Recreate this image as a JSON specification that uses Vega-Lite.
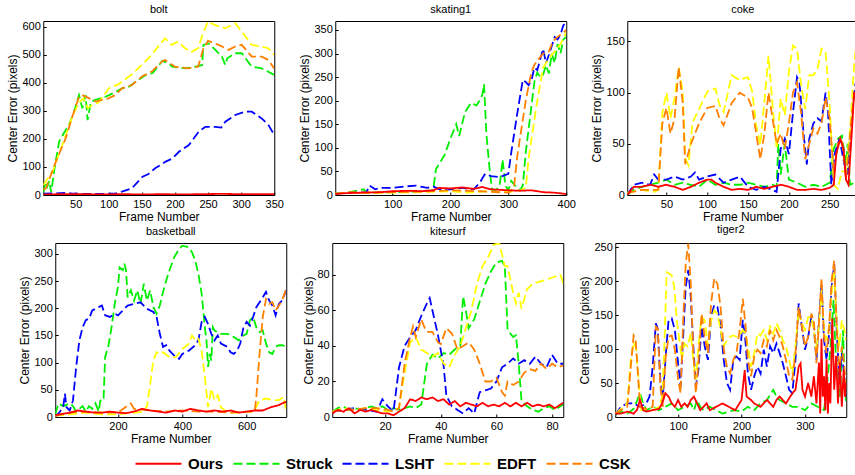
{
"$schema":"https://vega.github.io/schema/vega-lite/v6.json",
"padding":{"left":6,"right":1,"top":3,"bottom":2},
"config":{
"font":"Liberation Sans",
"view":{"stroke":"#000","strokeWidth":1},
"axis":{"grid":false,"domain":false,"ticks":true,"tickSize":-3,"tickColor":"#000","labelPadding":6,"labelFontSize":11,"labelColor":"#000","labelFont":"Liberation Sans","titleFont":"Liberation Sans","titleFontSize":12,"titleFontWeight":"normal","titleColor":"#000","titlePadding":2,"labelFlush":false},
"title":{"fontSize":11,"fontWeight":"normal","font":"Liberation Sans","offset":6,"frame":"group","color":"#000"},
"line":{"strokeWidth":1.8}
},
"datasets":{
"bolt":[
{"s":"Struck","f":1,"e":5},{"s":"Struck","f":4,"e":45},{"s":"Struck","f":7,"e":30},{"s":"Struck","f":10,"e":50},{"s":"Struck","f":13,"e":10},{"s":"Struck","f":16,"e":60},{"s":"Struck","f":18,"e":95},{"s":"Struck","f":25,"e":190},{"s":"Struck","f":32,"e":220},{"s":"Struck","f":40,"e":250},{"s":"Struck","f":48,"e":300},{"s":"Struck","f":55,"e":356},{"s":"Struck","f":60,"e":309},{"s":"Struck","f":65,"e":356},{"s":"Struck","f":68,"e":267},{"s":"Struck","f":73,"e":333},{"s":"Struck","f":80,"e":339},{"s":"Struck","f":88,"e":345},{"s":"Struck","f":95,"e":350},{"s":"Struck","f":106,"e":362},{"s":"Struck","f":120,"e":380},{"s":"Struck","f":130,"e":385},{"s":"Struck","f":141,"e":404},{"s":"Struck","f":156,"e":428},{"s":"Struck","f":166,"e":434},{"s":"Struck","f":181,"e":478},{"s":"Struck","f":190,"e":470},{"s":"Struck","f":196,"e":457},{"s":"Struck","f":216,"e":451},{"s":"Struck","f":231,"e":457},{"s":"Struck","f":241,"e":463},{"s":"Struck","f":243,"e":535},{"s":"Struck","f":251,"e":540},{"s":"Struck","f":261,"e":517},{"s":"Struck","f":271,"e":493},{"s":"Struck","f":276,"e":463},{"s":"Struck","f":279,"e":487},{"s":"Struck","f":291,"e":505},{"s":"Struck","f":301,"e":505},{"s":"Struck","f":316,"e":457},{"s":"Struck","f":331,"e":451},{"s":"Struck","f":350,"e":428},
{"s":"LSHT","f":1,"e":5},{"s":"LSHT","f":20,"e":6},{"s":"LSHT","f":35,"e":8},{"s":"LSHT","f":45,"e":5},{"s":"LSHT","f":60,"e":4},{"s":"LSHT","f":90,"e":4},{"s":"LSHT","f":110,"e":5},{"s":"LSHT","f":120,"e":12},{"s":"LSHT","f":135,"e":24},{"s":"LSHT","f":151,"e":65},{"s":"LSHT","f":160,"e":75},{"s":"LSHT","f":170,"e":95},{"s":"LSHT","f":186,"e":119},{"s":"LSHT","f":196,"e":130},{"s":"LSHT","f":206,"e":154},{"s":"LSHT","f":221,"e":178},{"s":"LSHT","f":236,"e":226},{"s":"LSHT","f":246,"e":243},{"s":"LSHT","f":261,"e":243},{"s":"LSHT","f":270,"e":240},{"s":"LSHT","f":276,"e":261},{"s":"LSHT","f":291,"e":285},{"s":"LSHT","f":306,"e":297},{"s":"LSHT","f":316,"e":297},{"s":"LSHT","f":331,"e":273},{"s":"LSHT","f":341,"e":250},{"s":"LSHT","f":350,"e":214},
{"s":"EDFT","f":1,"e":35},{"s":"EDFT","f":15,"e":83},{"s":"EDFT","f":30,"e":180},{"s":"EDFT","f":45,"e":280},{"s":"EDFT","f":55,"e":330},{"s":"EDFT","f":62,"e":345},{"s":"EDFT","f":68,"e":310},{"s":"EDFT","f":75,"e":320},{"s":"EDFT","f":85,"e":330},{"s":"EDFT","f":100,"e":380},{"s":"EDFT","f":115,"e":395},{"s":"EDFT","f":135,"e":430},{"s":"EDFT","f":160,"e":487},{"s":"EDFT","f":185,"e":558},{"s":"EDFT","f":195,"e":535},{"s":"EDFT","f":205,"e":547},{"s":"EDFT","f":215,"e":523},{"s":"EDFT","f":225,"e":510},{"s":"EDFT","f":235,"e":523},{"s":"EDFT","f":243,"e":580},{"s":"EDFT","f":250,"e":618},{"s":"EDFT","f":260,"e":606},{"s":"EDFT","f":276,"e":594},{"s":"EDFT","f":291,"e":612},{"s":"EDFT","f":301,"e":582},{"s":"EDFT","f":316,"e":535},{"s":"EDFT","f":331,"e":529},{"s":"EDFT","f":341,"e":523},{"s":"EDFT","f":350,"e":499},
{"s":"CSK","f":1,"e":20},{"s":"CSK","f":5,"e":24},{"s":"CSK","f":20,"e":119},{"s":"CSK","f":35,"e":202},{"s":"CSK","f":45,"e":280},{"s":"CSK","f":55,"e":350},{"s":"CSK","f":60,"e":356},{"s":"CSK","f":70,"e":345},{"s":"CSK","f":80,"e":333},{"s":"CSK","f":100,"e":345},{"s":"CSK","f":110,"e":356},{"s":"CSK","f":120,"e":380},{"s":"CSK","f":135,"e":392},{"s":"CSK","f":150,"e":422},{"s":"CSK","f":165,"e":440},{"s":"CSK","f":180,"e":475},{"s":"CSK","f":185,"e":481},{"s":"CSK","f":200,"e":457},{"s":"CSK","f":220,"e":451},{"s":"CSK","f":235,"e":457},{"s":"CSK","f":243,"e":523},{"s":"CSK","f":250,"e":549},{"s":"CSK","f":266,"e":535},{"s":"CSK","f":281,"e":517},{"s":"CSK","f":291,"e":529},{"s":"CSK","f":301,"e":535},{"s":"CSK","f":316,"e":493},{"s":"CSK","f":331,"e":493},{"s":"CSK","f":341,"e":481},{"s":"CSK","f":350,"e":451},
{"s":"Ours","f":1,"e":2},{"s":"Ours","f":30,"e":3},{"s":"Ours","f":60,"e":3},{"s":"Ours","f":90,"e":2},{"s":"Ours","f":120,"e":3},{"s":"Ours","f":150,"e":2},{"s":"Ours","f":180,"e":3},{"s":"Ours","f":210,"e":2},{"s":"Ours","f":240,"e":3},{"s":"Ours","f":270,"e":4},{"s":"Ours","f":300,"e":3},{"s":"Ours","f":330,"e":3},{"s":"Ours","f":350,"e":3}
],
"skating1":[
{"s":"Struck","f":1,"e":3},{"s":"Struck","f":20,"e":5},{"s":"Struck","f":50,"e":12},{"s":"Struck","f":55,"e":5},{"s":"Struck","f":100,"e":6},{"s":"Struck","f":150,"e":8},{"s":"Struck","f":170,"e":10},{"s":"Struck","f":175,"e":55},{"s":"Struck","f":190,"e":85},{"s":"Struck","f":200,"e":120},{"s":"Struck","f":210,"e":150},{"s":"Struck","f":215,"e":125},{"s":"Struck","f":225,"e":175},{"s":"Struck","f":235,"e":195},{"s":"Struck","f":245,"e":190},{"s":"Struck","f":250,"e":200},{"s":"Struck","f":255,"e":212},{"s":"Struck","f":258,"e":235},{"s":"Struck","f":262,"e":130},{"s":"Struck","f":268,"e":50},{"s":"Struck","f":272,"e":10},{"s":"Struck","f":280,"e":12},{"s":"Struck","f":285,"e":20},{"s":"Struck","f":290,"e":75},{"s":"Struck","f":295,"e":20},{"s":"Struck","f":300,"e":10},{"s":"Struck","f":305,"e":30},{"s":"Struck","f":315,"e":15},{"s":"Struck","f":320,"e":10},{"s":"Struck","f":325,"e":20},{"s":"Struck","f":330,"e":90},{"s":"Struck","f":340,"e":190},{"s":"Struck","f":345,"e":240},{"s":"Struck","f":350,"e":260},{"s":"Struck","f":355,"e":250},{"s":"Struck","f":360,"e":255},{"s":"Struck","f":365,"e":275},{"s":"Struck","f":370,"e":258},{"s":"Struck","f":375,"e":300},{"s":"Struck","f":380,"e":280},{"s":"Struck","f":385,"e":320},{"s":"Struck","f":390,"e":300},{"s":"Struck","f":395,"e":330},{"s":"Struck","f":400,"e":335},
{"s":"LSHT","f":1,"e":3},{"s":"LSHT","f":30,"e":5},{"s":"LSHT","f":55,"e":6},{"s":"LSHT","f":60,"e":20},{"s":"LSHT","f":70,"e":12},{"s":"LSHT","f":80,"e":15},{"s":"LSHT","f":100,"e":15},{"s":"LSHT","f":120,"e":18},{"s":"LSHT","f":140,"e":20},{"s":"LSHT","f":160,"e":15},{"s":"LSHT","f":170,"e":18},{"s":"LSHT","f":185,"e":10},{"s":"LSHT","f":200,"e":12},{"s":"LSHT","f":220,"e":15},{"s":"LSHT","f":240,"e":12},{"s":"LSHT","f":250,"e":25},{"s":"LSHT","f":260,"e":45},{"s":"LSHT","f":270,"e":40},{"s":"LSHT","f":285,"e":38},{"s":"LSHT","f":300,"e":45},{"s":"LSHT","f":305,"e":90},{"s":"LSHT","f":315,"e":170},{"s":"LSHT","f":325,"e":244},{"s":"LSHT","f":330,"e":240},{"s":"LSHT","f":335,"e":233},{"s":"LSHT","f":340,"e":244},{"s":"LSHT","f":345,"e":270},{"s":"LSHT","f":350,"e":265},{"s":"LSHT","f":360,"e":310},{"s":"LSHT","f":365,"e":280},{"s":"LSHT","f":370,"e":297},{"s":"LSHT","f":380,"e":335},{"s":"LSHT","f":385,"e":330},{"s":"LSHT","f":390,"e":340},{"s":"LSHT","f":395,"e":360},{"s":"LSHT","f":400,"e":365},
{"s":"EDFT","f":1,"e":3},{"s":"EDFT","f":30,"e":5},{"s":"EDFT","f":60,"e":4},{"s":"EDFT","f":100,"e":5},{"s":"EDFT","f":150,"e":6},{"s":"EDFT","f":200,"e":8},{"s":"EDFT","f":230,"e":5},{"s":"EDFT","f":260,"e":8},{"s":"EDFT","f":300,"e":6},{"s":"EDFT","f":320,"e":10},{"s":"EDFT","f":330,"e":15},{"s":"EDFT","f":335,"e":78},{"s":"EDFT","f":345,"e":160},{"s":"EDFT","f":350,"e":200},{"s":"EDFT","f":360,"e":270},{"s":"EDFT","f":370,"e":290},{"s":"EDFT","f":380,"e":304},{"s":"EDFT","f":390,"e":320},{"s":"EDFT","f":400,"e":345},
{"s":"CSK","f":1,"e":3},{"s":"CSK","f":30,"e":6},{"s":"CSK","f":60,"e":5},{"s":"CSK","f":100,"e":6},{"s":"CSK","f":150,"e":7},{"s":"CSK","f":200,"e":10},{"s":"CSK","f":250,"e":8},{"s":"CSK","f":300,"e":5},{"s":"CSK","f":305,"e":10},{"s":"CSK","f":310,"e":20},{"s":"CSK","f":315,"e":78},{"s":"CSK","f":320,"e":120},{"s":"CSK","f":330,"e":200},{"s":"CSK","f":340,"e":262},{"s":"CSK","f":345,"e":276},{"s":"CSK","f":350,"e":285},{"s":"CSK","f":360,"e":300},{"s":"CSK","f":370,"e":304},{"s":"CSK","f":375,"e":320},{"s":"CSK","f":380,"e":330},{"s":"CSK","f":390,"e":340},{"s":"CSK","f":400,"e":350},
{"s":"Ours","f":1,"e":2},{"s":"Ours","f":20,"e":4},{"s":"Ours","f":50,"e":5},{"s":"Ours","f":80,"e":6},{"s":"Ours","f":100,"e":8},{"s":"Ours","f":130,"e":9},{"s":"Ours","f":150,"e":8},{"s":"Ours","f":170,"e":10},{"s":"Ours","f":180,"e":15},{"s":"Ours","f":200,"e":14},{"s":"Ours","f":220,"e":16},{"s":"Ours","f":240,"e":13},{"s":"Ours","f":255,"e":17},{"s":"Ours","f":270,"e":12},{"s":"Ours","f":300,"e":10},{"s":"Ours","f":320,"e":9},{"s":"Ours","f":340,"e":10},{"s":"Ours","f":360,"e":6},{"s":"Ours","f":380,"e":5},{"s":"Ours","f":400,"e":2}
],
"coke":[
{"s":"Struck","f":2,"e":0},{"s":"Struck","f":10,"e":5},{"s":"Struck","f":20,"e":8},{"s":"Struck","f":30,"e":10},{"s":"Struck","f":40,"e":12},{"s":"Struck","f":50,"e":15},{"s":"Struck","f":60,"e":10},{"s":"Struck","f":70,"e":12},{"s":"Struck","f":80,"e":10},{"s":"Struck","f":90,"e":8},{"s":"Struck","f":100,"e":15},{"s":"Struck","f":110,"e":10},{"s":"Struck","f":120,"e":12},{"s":"Struck","f":130,"e":10},{"s":"Struck","f":140,"e":10},{"s":"Struck","f":150,"e":12},{"s":"Struck","f":160,"e":10},{"s":"Struck","f":170,"e":8},{"s":"Struck","f":180,"e":10},{"s":"Struck","f":185,"e":8},{"s":"Struck","f":187,"e":50},{"s":"Struck","f":190,"e":20},{"s":"Struck","f":195,"e":50},{"s":"Struck","f":200,"e":15},{"s":"Struck","f":210,"e":12},{"s":"Struck","f":220,"e":8},{"s":"Struck","f":230,"e":10},{"s":"Struck","f":240,"e":8},{"s":"Struck","f":250,"e":12},{"s":"Struck","f":255,"e":45},{"s":"Struck","f":260,"e":55},{"s":"Struck","f":265,"e":58},{"s":"Struck","f":270,"e":30},{"s":"Struck","f":272,"e":50},{"s":"Struck","f":275,"e":10},{"s":"Struck","f":280,"e":12},{"s":"Struck","f":285,"e":12},
{"s":"LSHT","f":2,"e":0},{"s":"LSHT","f":10,"e":10},{"s":"LSHT","f":20,"e":12},{"s":"LSHT","f":30,"e":10},{"s":"LSHT","f":35,"e":20},{"s":"LSHT","f":40,"e":15},{"s":"LSHT","f":50,"e":15},{"s":"LSHT","f":60,"e":18},{"s":"LSHT","f":70,"e":15},{"s":"LSHT","f":80,"e":18},{"s":"LSHT","f":85,"e":22},{"s":"LSHT","f":90,"e":15},{"s":"LSHT","f":100,"e":18},{"s":"LSHT","f":110,"e":20},{"s":"LSHT","f":120,"e":12},{"s":"LSHT","f":130,"e":15},{"s":"LSHT","f":140,"e":18},{"s":"LSHT","f":150,"e":8},{"s":"LSHT","f":160,"e":5},{"s":"LSHT","f":170,"e":8},{"s":"LSHT","f":180,"e":5},{"s":"LSHT","f":185,"e":3},{"s":"LSHT","f":190,"e":45},{"s":"LSHT","f":195,"e":55},{"s":"LSHT","f":200,"e":40},{"s":"LSHT","f":205,"e":80},{"s":"LSHT","f":210,"e":115},{"s":"LSHT","f":213,"e":110},{"s":"LSHT","f":218,"e":60},{"s":"LSHT","f":222,"e":30},{"s":"LSHT","f":225,"e":55},{"s":"LSHT","f":230,"e":70},{"s":"LSHT","f":235,"e":75},{"s":"LSHT","f":240,"e":72},{"s":"LSHT","f":245,"e":100},{"s":"LSHT","f":248,"e":80},{"s":"LSHT","f":252,"e":10},{"s":"LSHT","f":256,"e":40},{"s":"LSHT","f":262,"e":55},{"s":"LSHT","f":268,"e":30},{"s":"LSHT","f":272,"e":20},{"s":"LSHT","f":276,"e":70},{"s":"LSHT","f":280,"e":100},{"s":"LSHT","f":285,"e":125},
{"s":"EDFT","f":2,"e":2},{"s":"EDFT","f":20,"e":5},{"s":"EDFT","f":35,"e":3},{"s":"EDFT","f":40,"e":5},{"s":"EDFT","f":45,"e":80},{"s":"EDFT","f":50,"e":100},{"s":"EDFT","f":55,"e":75},{"s":"EDFT","f":60,"e":95},{"s":"EDFT","f":65,"e":125},{"s":"EDFT","f":70,"e":100},{"s":"EDFT","f":73,"e":36},{"s":"EDFT","f":77,"e":29},{"s":"EDFT","f":82,"e":71},{"s":"EDFT","f":90,"e":84},{"s":"EDFT","f":100,"e":101},{"s":"EDFT","f":110,"e":104},{"s":"EDFT","f":115,"e":88},{"s":"EDFT","f":120,"e":81},{"s":"EDFT","f":130,"e":117},{"s":"EDFT","f":140,"e":112},{"s":"EDFT","f":145,"e":114},{"s":"EDFT","f":150,"e":115},{"s":"EDFT","f":155,"e":101},{"s":"EDFT","f":160,"e":68},{"s":"EDFT","f":165,"e":49},{"s":"EDFT","f":170,"e":91},{"s":"EDFT","f":175,"e":136},{"s":"EDFT","f":180,"e":88},{"s":"EDFT","f":185,"e":45},{"s":"EDFT","f":190,"e":94},{"s":"EDFT","f":195,"e":78},{"s":"EDFT","f":200,"e":120},{"s":"EDFT","f":205,"e":146},{"s":"EDFT","f":210,"e":143},{"s":"EDFT","f":215,"e":107},{"s":"EDFT","f":220,"e":84},{"s":"EDFT","f":225,"e":117},{"s":"EDFT","f":230,"e":117},{"s":"EDFT","f":235,"e":123},{"s":"EDFT","f":240,"e":143},{"s":"EDFT","f":245,"e":140},{"s":"EDFT","f":250,"e":88},{"s":"EDFT","f":255,"e":10},{"s":"EDFT","f":260,"e":6},{"s":"EDFT","f":265,"e":23},{"s":"EDFT","f":270,"e":23},{"s":"EDFT","f":275,"e":65},{"s":"EDFT","f":280,"e":127},{"s":"EDFT","f":285,"e":169},
{"s":"CSK","f":2,"e":2},{"s":"CSK","f":20,"e":5},{"s":"CSK","f":40,"e":5},{"s":"CSK","f":45,"e":70},{"s":"CSK","f":50,"e":85},{"s":"CSK","f":55,"e":60},{"s":"CSK","f":60,"e":75},{"s":"CSK","f":65,"e":125},{"s":"CSK","f":70,"e":90},{"s":"CSK","f":73,"e":30},{"s":"CSK","f":80,"e":50},{"s":"CSK","f":90,"e":70},{"s":"CSK","f":100,"e":85},{"s":"CSK","f":110,"e":87},{"s":"CSK","f":115,"e":75},{"s":"CSK","f":120,"e":68},{"s":"CSK","f":130,"e":90},{"s":"CSK","f":140,"e":100},{"s":"CSK","f":150,"e":95},{"s":"CSK","f":155,"e":85},{"s":"CSK","f":160,"e":60},{"s":"CSK","f":165,"e":35},{"s":"CSK","f":170,"e":60},{"s":"CSK","f":175,"e":100},{"s":"CSK","f":180,"e":75},{"s":"CSK","f":185,"e":50},{"s":"CSK","f":190,"e":60},{"s":"CSK","f":195,"e":45},{"s":"CSK","f":200,"e":70},{"s":"CSK","f":205,"e":100},{"s":"CSK","f":210,"e":110},{"s":"CSK","f":215,"e":80},{"s":"CSK","f":220,"e":35},{"s":"CSK","f":225,"e":50},{"s":"CSK","f":230,"e":65},{"s":"CSK","f":235,"e":60},{"s":"CSK","f":240,"e":70},{"s":"CSK","f":245,"e":95},{"s":"CSK","f":250,"e":75},{"s":"CSK","f":255,"e":20},{"s":"CSK","f":260,"e":50},{"s":"CSK","f":265,"e":55},{"s":"CSK","f":270,"e":15},{"s":"CSK","f":275,"e":60},{"s":"CSK","f":280,"e":100},{"s":"CSK","f":285,"e":110},
{"s":"Ours","f":2,"e":0},{"s":"Ours","f":5,"e":3},{"s":"Ours","f":10,"e":8},{"s":"Ours","f":20,"e":8},{"s":"Ours","f":30,"e":10},{"s":"Ours","f":40,"e":8},{"s":"Ours","f":50,"e":10},{"s":"Ours","f":60,"e":8},{"s":"Ours","f":70,"e":5},{"s":"Ours","f":80,"e":8},{"s":"Ours","f":90,"e":12},{"s":"Ours","f":100,"e":15},{"s":"Ours","f":105,"e":15},{"s":"Ours","f":110,"e":12},{"s":"Ours","f":120,"e":8},{"s":"Ours","f":130,"e":5},{"s":"Ours","f":140,"e":6},{"s":"Ours","f":150,"e":5},{"s":"Ours","f":160,"e":8},{"s":"Ours","f":170,"e":6},{"s":"Ours","f":180,"e":8},{"s":"Ours","f":190,"e":10},{"s":"Ours","f":200,"e":8},{"s":"Ours","f":210,"e":5},{"s":"Ours","f":220,"e":5},{"s":"Ours","f":230,"e":6},{"s":"Ours","f":240,"e":5},{"s":"Ours","f":250,"e":7},{"s":"Ours","f":255,"e":10},{"s":"Ours","f":258,"e":40},{"s":"Ours","f":263,"e":55},{"s":"Ours","f":267,"e":45},{"s":"Ours","f":270,"e":15},{"s":"Ours","f":273,"e":10},{"s":"Ours","f":277,"e":60},{"s":"Ours","f":280,"e":100},{"s":"Ours","f":283,"e":100},{"s":"Ours","f":285,"e":110}
],
"basketball":[
{"s":"Struck","f":5,"e":5},{"s":"Struck","f":15,"e":25},{"s":"Struck","f":30,"e":20},{"s":"Struck","f":50,"e":25},{"s":"Struck","f":60,"e":20},{"s":"Struck","f":70,"e":10},{"s":"Struck","f":80,"e":15},{"s":"Struck","f":90,"e":20},{"s":"Struck","f":100,"e":10},{"s":"Struck","f":110,"e":20},{"s":"Struck","f":120,"e":15},{"s":"Struck","f":130,"e":25},{"s":"Struck","f":140,"e":10},{"s":"Struck","f":145,"e":30},{"s":"Struck","f":155,"e":30},{"s":"Struck","f":160,"e":110},{"s":"Struck","f":170,"e":130},{"s":"Struck","f":180,"e":165},{"s":"Struck","f":190,"e":208},{"s":"Struck","f":200,"e":240},{"s":"Struck","f":205,"e":275},{"s":"Struck","f":215,"e":270},{"s":"Struck","f":220,"e":282},{"s":"Struck","f":225,"e":270},{"s":"Struck","f":230,"e":220},{"s":"Struck","f":240,"e":233},{"s":"Struck","f":250,"e":214},{"s":"Struck","f":260,"e":233},{"s":"Struck","f":270,"e":208},{"s":"Struck","f":280,"e":245},{"s":"Struck","f":290,"e":214},{"s":"Struck","f":300,"e":233},{"s":"Struck","f":310,"e":202},{"s":"Struck","f":320,"e":190},{"s":"Struck","f":330,"e":205},{"s":"Struck","f":340,"e":230},{"s":"Struck","f":350,"e":251},{"s":"Struck","f":360,"e":270},{"s":"Struck","f":375,"e":294},{"s":"Struck","f":390,"e":309},{"s":"Struck","f":400,"e":315},{"s":"Struck","f":420,"e":312},{"s":"Struck","f":430,"e":303},{"s":"Struck","f":440,"e":288},{"s":"Struck","f":450,"e":263},{"s":"Struck","f":460,"e":227},{"s":"Struck","f":470,"e":165},{"s":"Struck","f":475,"e":141},{"s":"Struck","f":480,"e":92},{"s":"Struck","f":485,"e":116},{"s":"Struck","f":490,"e":104},{"s":"Struck","f":495,"e":165},{"s":"Struck","f":500,"e":159},{"s":"Struck","f":520,"e":153},{"s":"Struck","f":540,"e":153},{"s":"Struck","f":560,"e":147},{"s":"Struck","f":575,"e":141},{"s":"Struck","f":590,"e":150},{"s":"Struck","f":600,"e":153},{"s":"Struck","f":610,"e":178},{"s":"Struck","f":620,"e":184},{"s":"Struck","f":630,"e":165},{"s":"Struck","f":640,"e":156},{"s":"Struck","f":650,"e":159},{"s":"Struck","f":660,"e":135},{"s":"Struck","f":670,"e":119},{"s":"Struck","f":680,"e":116},{"s":"Struck","f":690,"e":129},{"s":"Struck","f":700,"e":132},{"s":"Struck","f":710,"e":132},{"s":"Struck","f":723,"e":129},
{"s":"LSHT","f":5,"e":0},{"s":"LSHT","f":20,"e":10},{"s":"LSHT","f":30,"e":20},{"s":"LSHT","f":35,"e":43},{"s":"LSHT","f":40,"e":18},{"s":"LSHT","f":50,"e":12},{"s":"LSHT","f":60,"e":30},{"s":"LSHT","f":70,"e":92},{"s":"LSHT","f":80,"e":141},{"s":"LSHT","f":90,"e":165},{"s":"LSHT","f":100,"e":178},{"s":"LSHT","f":110,"e":181},{"s":"LSHT","f":120,"e":196},{"s":"LSHT","f":140,"e":202},{"s":"LSHT","f":150,"e":205},{"s":"LSHT","f":160,"e":187},{"s":"LSHT","f":175,"e":184},{"s":"LSHT","f":190,"e":190},{"s":"LSHT","f":200,"e":187},{"s":"LSHT","f":215,"e":196},{"s":"LSHT","f":230,"e":205},{"s":"LSHT","f":250,"e":208},{"s":"LSHT","f":270,"e":211},{"s":"LSHT","f":290,"e":199},{"s":"LSHT","f":310,"e":193},{"s":"LSHT","f":320,"e":184},{"s":"LSHT","f":330,"e":153},{"s":"LSHT","f":340,"e":129},{"s":"LSHT","f":350,"e":132},{"s":"LSHT","f":360,"e":122},{"s":"LSHT","f":380,"e":110},{"s":"LSHT","f":390,"e":107},{"s":"LSHT","f":400,"e":116},{"s":"LSHT","f":420,"e":122},{"s":"LSHT","f":440,"e":132},{"s":"LSHT","f":450,"e":141},{"s":"LSHT","f":460,"e":175},{"s":"LSHT","f":470,"e":184},{"s":"LSHT","f":480,"e":171},{"s":"LSHT","f":490,"e":153},{"s":"LSHT","f":500,"e":141},{"s":"LSHT","f":510,"e":150},{"s":"LSHT","f":520,"e":135},{"s":"LSHT","f":540,"e":129},{"s":"LSHT","f":550,"e":119},{"s":"LSHT","f":560,"e":116},{"s":"LSHT","f":570,"e":122},{"s":"LSHT","f":580,"e":135},{"s":"LSHT","f":590,"e":165},{"s":"LSHT","f":600,"e":175},{"s":"LSHT","f":610,"e":168},{"s":"LSHT","f":620,"e":184},{"s":"LSHT","f":630,"e":202},{"s":"LSHT","f":640,"e":211},{"s":"LSHT","f":650,"e":220},{"s":"LSHT","f":660,"e":230},{"s":"LSHT","f":670,"e":214},{"s":"LSHT","f":680,"e":205},{"s":"LSHT","f":690,"e":187},{"s":"LSHT","f":700,"e":208},{"s":"LSHT","f":710,"e":214},{"s":"LSHT","f":723,"e":233},
{"s":"EDFT","f":5,"e":2},{"s":"EDFT","f":50,"e":5},{"s":"EDFT","f":100,"e":8},{"s":"EDFT","f":150,"e":5},{"s":"EDFT","f":200,"e":5},{"s":"EDFT","f":250,"e":8},{"s":"EDFT","f":280,"e":10},{"s":"EDFT","f":290,"e":20},{"s":"EDFT","f":300,"e":60},{"s":"EDFT","f":310,"e":104},{"s":"EDFT","f":320,"e":119},{"s":"EDFT","f":330,"e":116},{"s":"EDFT","f":340,"e":119},{"s":"EDFT","f":360,"e":110},{"s":"EDFT","f":380,"e":110},{"s":"EDFT","f":400,"e":125},{"s":"EDFT","f":420,"e":135},{"s":"EDFT","f":430,"e":150},{"s":"EDFT","f":440,"e":141},{"s":"EDFT","f":450,"e":144},{"s":"EDFT","f":460,"e":122},{"s":"EDFT","f":470,"e":73},{"s":"EDFT","f":480,"e":18},{"s":"EDFT","f":490,"e":52},{"s":"EDFT","f":500,"e":31},{"s":"EDFT","f":510,"e":40},{"s":"EDFT","f":520,"e":18},{"s":"EDFT","f":540,"e":8},{"s":"EDFT","f":580,"e":8},{"s":"EDFT","f":620,"e":10},{"s":"EDFT","f":630,"e":18},{"s":"EDFT","f":640,"e":31},{"s":"EDFT","f":660,"e":34},{"s":"EDFT","f":680,"e":31},{"s":"EDFT","f":700,"e":31},{"s":"EDFT","f":715,"e":37},{"s":"EDFT","f":723,"e":9},
{"s":"CSK","f":5,"e":2},{"s":"CSK","f":50,"e":8},{"s":"CSK","f":100,"e":10},{"s":"CSK","f":150,"e":8},{"s":"CSK","f":200,"e":8},{"s":"CSK","f":240,"e":25},{"s":"CSK","f":250,"e":15},{"s":"CSK","f":300,"e":12},{"s":"CSK","f":350,"e":10},{"s":"CSK","f":400,"e":12},{"s":"CSK","f":450,"e":10},{"s":"CSK","f":500,"e":10},{"s":"CSK","f":550,"e":8},{"s":"CSK","f":600,"e":10},{"s":"CSK","f":625,"e":10},{"s":"CSK","f":630,"e":37},{"s":"CSK","f":640,"e":116},{"s":"CSK","f":650,"e":184},{"s":"CSK","f":660,"e":217},{"s":"CSK","f":670,"e":208},{"s":"CSK","f":680,"e":211},{"s":"CSK","f":690,"e":196},{"s":"CSK","f":700,"e":205},{"s":"CSK","f":710,"e":214},{"s":"CSK","f":723,"e":236},
{"s":"Ours","f":5,"e":3},{"s":"Ours","f":20,"e":5},{"s":"Ours","f":50,"e":8},{"s":"Ours","f":75,"e":12},{"s":"Ours","f":100,"e":10},{"s":"Ours","f":125,"e":8},{"s":"Ours","f":150,"e":8},{"s":"Ours","f":175,"e":10},{"s":"Ours","f":200,"e":8},{"s":"Ours","f":225,"e":7},{"s":"Ours","f":250,"e":10},{"s":"Ours","f":275,"e":15},{"s":"Ours","f":300,"e":12},{"s":"Ours","f":325,"e":10},{"s":"Ours","f":350,"e":8},{"s":"Ours","f":375,"e":12},{"s":"Ours","f":400,"e":10},{"s":"Ours","f":425,"e":15},{"s":"Ours","f":450,"e":12},{"s":"Ours","f":475,"e":10},{"s":"Ours","f":500,"e":12},{"s":"Ours","f":525,"e":10},{"s":"Ours","f":550,"e":12},{"s":"Ours","f":575,"e":8},{"s":"Ours","f":600,"e":10},{"s":"Ours","f":625,"e":12},{"s":"Ours","f":650,"e":12},{"s":"Ours","f":675,"e":18},{"s":"Ours","f":700,"e":22},{"s":"Ours","f":710,"e":25},{"s":"Ours","f":723,"e":28}
],
"kitesurf":[
{"s":"Struck","f":1,"e":3},{"s":"Struck","f":3,"e":5},{"s":"Struck","f":5,"e":6},{"s":"Struck","f":7,"e":4},{"s":"Struck","f":9,"e":5},{"s":"Struck","f":11,"e":4},{"s":"Struck","f":13,"e":5},{"s":"Struck","f":15,"e":6},{"s":"Struck","f":17,"e":5},{"s":"Struck","f":19,"e":6},{"s":"Struck","f":21,"e":4},{"s":"Struck","f":23,"e":5},{"s":"Struck","f":25,"e":4},{"s":"Struck","f":27,"e":5},{"s":"Struck","f":29,"e":6},{"s":"Struck","f":31,"e":5},{"s":"Struck","f":33,"e":7},{"s":"Struck","f":35,"e":30},{"s":"Struck","f":37,"e":35},{"s":"Struck","f":39,"e":33},{"s":"Struck","f":41,"e":36},{"s":"Struck","f":43,"e":35},{"s":"Struck","f":45,"e":38},{"s":"Struck","f":47,"e":40},{"s":"Struck","f":48,"e":68},{"s":"Struck","f":49,"e":60},{"s":"Struck","f":50,"e":50},{"s":"Struck","f":52,"e":55},{"s":"Struck","f":54,"e":65},{"s":"Struck","f":56,"e":75},{"s":"Struck","f":58,"e":82},{"s":"Struck","f":60,"e":87},{"s":"Struck","f":62,"e":88},{"s":"Struck","f":63,"e":85},{"s":"Struck","f":64,"e":49},{"s":"Struck","f":66,"e":45},{"s":"Struck","f":67,"e":46},{"s":"Struck","f":68,"e":30},{"s":"Struck","f":69,"e":9},{"s":"Struck","f":71,"e":6},{"s":"Struck","f":73,"e":4},{"s":"Struck","f":75,"e":3},{"s":"Struck","f":77,"e":5},{"s":"Struck","f":79,"e":6},{"s":"Struck","f":81,"e":4},{"s":"Struck","f":84,"e":7},
{"s":"LSHT","f":1,"e":3},{"s":"LSHT","f":5,"e":4},{"s":"LSHT","f":9,"e":5},{"s":"LSHT","f":13,"e":4},{"s":"LSHT","f":17,"e":3},{"s":"LSHT","f":19,"e":10},{"s":"LSHT","f":21,"e":6},{"s":"LSHT","f":23,"e":3},{"s":"LSHT","f":25,"e":28},{"s":"LSHT","f":27,"e":40},{"s":"LSHT","f":29,"e":45},{"s":"LSHT","f":31,"e":49},{"s":"LSHT","f":33,"e":57},{"s":"LSHT","f":35,"e":64},{"s":"LSHT","f":36,"e":67},{"s":"LSHT","f":37,"e":60},{"s":"LSHT","f":39,"e":46},{"s":"LSHT","f":41,"e":29},{"s":"LSHT","f":42,"e":12},{"s":"LSHT","f":44,"e":6},{"s":"LSHT","f":46,"e":4},{"s":"LSHT","f":48,"e":2},{"s":"LSHT","f":50,"e":5},{"s":"LSHT","f":52,"e":2},{"s":"LSHT","f":54,"e":14},{"s":"LSHT","f":56,"e":15},{"s":"LSHT","f":58,"e":16},{"s":"LSHT","f":60,"e":20},{"s":"LSHT","f":62,"e":28},{"s":"LSHT","f":64,"e":30},{"s":"LSHT","f":66,"e":33},{"s":"LSHT","f":68,"e":30},{"s":"LSHT","f":70,"e":32},{"s":"LSHT","f":72,"e":30},{"s":"LSHT","f":74,"e":34},{"s":"LSHT","f":76,"e":30},{"s":"LSHT","f":78,"e":28},{"s":"LSHT","f":80,"e":35},{"s":"LSHT","f":82,"e":30},{"s":"LSHT","f":84,"e":30},
{"s":"EDFT","f":1,"e":3},{"s":"EDFT","f":5,"e":5},{"s":"EDFT","f":9,"e":4},{"s":"EDFT","f":13,"e":5},{"s":"EDFT","f":17,"e":4},{"s":"EDFT","f":21,"e":3},{"s":"EDFT","f":23,"e":4},{"s":"EDFT","f":25,"e":5},{"s":"EDFT","f":27,"e":25},{"s":"EDFT","f":29,"e":42},{"s":"EDFT","f":31,"e":45},{"s":"EDFT","f":33,"e":38},{"s":"EDFT","f":35,"e":36},{"s":"EDFT","f":37,"e":34},{"s":"EDFT","f":39,"e":36},{"s":"EDFT","f":41,"e":30},{"s":"EDFT","f":43,"e":28},{"s":"EDFT","f":45,"e":35},{"s":"EDFT","f":47,"e":40},{"s":"EDFT","f":49,"e":50},{"s":"EDFT","f":51,"e":60},{"s":"EDFT","f":53,"e":75},{"s":"EDFT","f":55,"e":85},{"s":"EDFT","f":57,"e":90},{"s":"EDFT","f":59,"e":97},{"s":"EDFT","f":61,"e":98},{"s":"EDFT","f":63,"e":85},{"s":"EDFT","f":64,"e":85},{"s":"EDFT","f":66,"e":70},{"s":"EDFT","f":67,"e":64},{"s":"EDFT","f":68,"e":70},{"s":"EDFT","f":69,"e":61},{"s":"EDFT","f":71,"e":72},{"s":"EDFT","f":73,"e":75},{"s":"EDFT","f":75,"e":76},{"s":"EDFT","f":77,"e":77},{"s":"EDFT","f":79,"e":78},{"s":"EDFT","f":81,"e":79},{"s":"EDFT","f":83,"e":80},{"s":"EDFT","f":84,"e":75},
{"s":"CSK","f":1,"e":3},{"s":"CSK","f":5,"e":4},{"s":"CSK","f":9,"e":4},{"s":"CSK","f":13,"e":5},{"s":"CSK","f":17,"e":5},{"s":"CSK","f":21,"e":4},{"s":"CSK","f":23,"e":3},{"s":"CSK","f":25,"e":5},{"s":"CSK","f":27,"e":30},{"s":"CSK","f":29,"e":45},{"s":"CSK","f":30,"e":51},{"s":"CSK","f":31,"e":45},{"s":"CSK","f":33,"e":55},{"s":"CSK","f":34,"e":51},{"s":"CSK","f":35,"e":48},{"s":"CSK","f":37,"e":48},{"s":"CSK","f":39,"e":42},{"s":"CSK","f":40,"e":41},{"s":"CSK","f":42,"e":50},{"s":"CSK","f":44,"e":47},{"s":"CSK","f":46,"e":38},{"s":"CSK","f":48,"e":40},{"s":"CSK","f":50,"e":42},{"s":"CSK","f":52,"e":38},{"s":"CSK","f":54,"e":30},{"s":"CSK","f":56,"e":20},{"s":"CSK","f":58,"e":20},{"s":"CSK","f":60,"e":22},{"s":"CSK","f":62,"e":14},{"s":"CSK","f":63,"e":12},{"s":"CSK","f":64,"e":20},{"s":"CSK","f":66,"e":18},{"s":"CSK","f":68,"e":20},{"s":"CSK","f":70,"e":25},{"s":"CSK","f":72,"e":27},{"s":"CSK","f":74,"e":26},{"s":"CSK","f":76,"e":30},{"s":"CSK","f":78,"e":27},{"s":"CSK","f":80,"e":30},{"s":"CSK","f":82,"e":28},{"s":"CSK","f":84,"e":29},
{"s":"Ours","f":1,"e":2},{"s":"Ours","f":3,"e":4},{"s":"Ours","f":5,"e":3},{"s":"Ours","f":7,"e":5},{"s":"Ours","f":9,"e":2},{"s":"Ours","f":11,"e":4},{"s":"Ours","f":13,"e":3},{"s":"Ours","f":15,"e":4},{"s":"Ours","f":17,"e":3},{"s":"Ours","f":19,"e":2},{"s":"Ours","f":21,"e":2},{"s":"Ours","f":23,"e":1},{"s":"Ours","f":25,"e":3},{"s":"Ours","f":27,"e":5},{"s":"Ours","f":29,"e":10},{"s":"Ours","f":31,"e":9},{"s":"Ours","f":33,"e":11},{"s":"Ours","f":35,"e":10},{"s":"Ours","f":37,"e":11},{"s":"Ours","f":39,"e":9},{"s":"Ours","f":41,"e":10},{"s":"Ours","f":43,"e":7},{"s":"Ours","f":45,"e":9},{"s":"Ours","f":47,"e":6},{"s":"Ours","f":49,"e":8},{"s":"Ours","f":51,"e":7},{"s":"Ours","f":53,"e":6},{"s":"Ours","f":55,"e":8},{"s":"Ours","f":57,"e":6},{"s":"Ours","f":59,"e":7},{"s":"Ours","f":61,"e":6},{"s":"Ours","f":63,"e":8},{"s":"Ours","f":65,"e":6},{"s":"Ours","f":67,"e":8},{"s":"Ours","f":69,"e":6},{"s":"Ours","f":71,"e":8},{"s":"Ours","f":73,"e":6},{"s":"Ours","f":75,"e":7},{"s":"Ours","f":77,"e":6},{"s":"Ours","f":79,"e":7},{"s":"Ours","f":81,"e":5},{"s":"Ours","f":84,"e":8}
],
"tiger2":[
{"s":"Struck","f":1,"e":3},{"s":"Struck","f":10,"e":8},{"s":"Struck","f":20,"e":5},{"s":"Struck","f":30,"e":12},{"s":"Struck","f":35,"e":23},{"s":"Struck","f":40,"e":35},{"s":"Struck","f":45,"e":20},{"s":"Struck","f":50,"e":10},{"s":"Struck","f":60,"e":15},{"s":"Struck","f":70,"e":10},{"s":"Struck","f":80,"e":15},{"s":"Struck","f":90,"e":20},{"s":"Struck","f":100,"e":10},{"s":"Struck","f":110,"e":15},{"s":"Struck","f":120,"e":20},{"s":"Struck","f":125,"e":10},{"s":"Struck","f":130,"e":25},{"s":"Struck","f":135,"e":15},{"s":"Struck","f":140,"e":10},{"s":"Struck","f":150,"e":15},{"s":"Struck","f":160,"e":10},{"s":"Struck","f":170,"e":5},{"s":"Struck","f":180,"e":8},{"s":"Struck","f":190,"e":10},{"s":"Struck","f":200,"e":8},{"s":"Struck","f":210,"e":15},{"s":"Struck","f":220,"e":10},{"s":"Struck","f":230,"e":20},{"s":"Struck","f":240,"e":25},{"s":"Struck","f":250,"e":40},{"s":"Struck","f":255,"e":30},{"s":"Struck","f":260,"e":25},{"s":"Struck","f":270,"e":20},{"s":"Struck","f":280,"e":15},{"s":"Struck","f":290,"e":15},{"s":"Struck","f":300,"e":10},{"s":"Struck","f":310,"e":20},{"s":"Struck","f":320,"e":15},{"s":"Struck","f":330,"e":10},{"s":"Struck","f":335,"e":50},{"s":"Struck","f":340,"e":100},{"s":"Struck","f":345,"e":172},{"s":"Struck","f":348,"e":100},{"s":"Struck","f":352,"e":50},{"s":"Struck","f":355,"e":30},{"s":"Struck","f":360,"e":128},{"s":"Struck","f":362,"e":60},{"s":"Struck","f":365,"e":20},
{"s":"LSHT","f":1,"e":3},{"s":"LSHT","f":10,"e":15},{"s":"LSHT","f":20,"e":20},{"s":"LSHT","f":30,"e":20},{"s":"LSHT","f":40,"e":15},{"s":"LSHT","f":50,"e":20},{"s":"LSHT","f":55,"e":30},{"s":"LSHT","f":60,"e":74},{"s":"LSHT","f":65,"e":138},{"s":"LSHT","f":68,"e":130},{"s":"LSHT","f":72,"e":55},{"s":"LSHT","f":76,"e":30},{"s":"LSHT","f":80,"e":84},{"s":"LSHT","f":85,"e":142},{"s":"LSHT","f":90,"e":145},{"s":"LSHT","f":95,"e":128},{"s":"LSHT","f":100,"e":79},{"s":"LSHT","f":104,"e":45},{"s":"LSHT","f":108,"e":118},{"s":"LSHT","f":112,"e":191},{"s":"LSHT","f":116,"e":216},{"s":"LSHT","f":120,"e":177},{"s":"LSHT","f":124,"e":104},{"s":"LSHT","f":128,"e":45},{"s":"LSHT","f":132,"e":69},{"s":"LSHT","f":137,"e":133},{"s":"LSHT","f":142,"e":104},{"s":"LSHT","f":147,"e":84},{"s":"LSHT","f":152,"e":147},{"s":"LSHT","f":157,"e":165},{"s":"LSHT","f":162,"e":162},{"s":"LSHT","f":167,"e":133},{"s":"LSHT","f":172,"e":84},{"s":"LSHT","f":177,"e":50},{"s":"LSHT","f":182,"e":40},{"s":"LSHT","f":187,"e":84},{"s":"LSHT","f":192,"e":89},{"s":"LSHT","f":197,"e":84},{"s":"LSHT","f":202,"e":143},{"s":"LSHT","f":206,"e":113},{"s":"LSHT","f":210,"e":64},{"s":"LSHT","f":215,"e":40},{"s":"LSHT","f":220,"e":60},{"s":"LSHT","f":225,"e":74},{"s":"LSHT","f":230,"e":64},{"s":"LSHT","f":235,"e":99},{"s":"LSHT","f":240,"e":74},{"s":"LSHT","f":245,"e":104},{"s":"LSHT","f":250,"e":94},{"s":"LSHT","f":255,"e":108},{"s":"LSHT","f":260,"e":94},{"s":"LSHT","f":265,"e":79},{"s":"LSHT","f":270,"e":60},{"s":"LSHT","f":275,"e":40},{"s":"LSHT","f":280,"e":35},{"s":"LSHT","f":285,"e":84},{"s":"LSHT","f":290,"e":167},{"s":"LSHT","f":295,"e":133},{"s":"LSHT","f":300,"e":99},{"s":"LSHT","f":305,"e":118},{"s":"LSHT","f":310,"e":147},{"s":"LSHT","f":314,"e":133},{"s":"LSHT","f":318,"e":84},{"s":"LSHT","f":322,"e":143},{"s":"LSHT","f":326,"e":196},{"s":"LSHT","f":330,"e":113},{"s":"LSHT","f":334,"e":84},{"s":"LSHT","f":338,"e":123},{"s":"LSHT","f":342,"e":191},{"s":"LSHT","f":346,"e":225},{"s":"LSHT","f":350,"e":128},{"s":"LSHT","f":354,"e":55},{"s":"LSHT","f":358,"e":94},{"s":"LSHT","f":362,"e":60},{"s":"LSHT","f":365,"e":30},
{"s":"EDFT","f":1,"e":5},{"s":"EDFT","f":10,"e":12},{"s":"EDFT","f":20,"e":20},{"s":"EDFT","f":25,"e":80},{"s":"EDFT","f":30,"e":110},{"s":"EDFT","f":34,"e":100},{"s":"EDFT","f":38,"e":50},{"s":"EDFT","f":42,"e":10},{"s":"EDFT","f":50,"e":12},{"s":"EDFT","f":60,"e":10},{"s":"EDFT","f":70,"e":15},{"s":"EDFT","f":75,"e":30},{"s":"EDFT","f":78,"e":94},{"s":"EDFT","f":82,"e":213},{"s":"EDFT","f":86,"e":211},{"s":"EDFT","f":90,"e":208},{"s":"EDFT","f":94,"e":191},{"s":"EDFT","f":98,"e":142},{"s":"EDFT","f":102,"e":113},{"s":"EDFT","f":106,"e":84},{"s":"EDFT","f":110,"e":108},{"s":"EDFT","f":115,"e":104},{"s":"EDFT","f":120,"e":123},{"s":"EDFT","f":124,"e":84},{"s":"EDFT","f":128,"e":55},{"s":"EDFT","f":132,"e":104},{"s":"EDFT","f":137,"e":147},{"s":"EDFT","f":142,"e":142},{"s":"EDFT","f":147,"e":104},{"s":"EDFT","f":152,"e":142},{"s":"EDFT","f":157,"e":157},{"s":"EDFT","f":162,"e":152},{"s":"EDFT","f":167,"e":128},{"s":"EDFT","f":172,"e":104},{"s":"EDFT","f":177,"e":113},{"s":"EDFT","f":182,"e":118},{"s":"EDFT","f":187,"e":120},{"s":"EDFT","f":192,"e":118},{"s":"EDFT","f":197,"e":120},{"s":"EDFT","f":202,"e":128},{"s":"EDFT","f":206,"e":123},{"s":"EDFT","f":210,"e":104},{"s":"EDFT","f":215,"e":74},{"s":"EDFT","f":220,"e":94},{"s":"EDFT","f":225,"e":123},{"s":"EDFT","f":230,"e":120},{"s":"EDFT","f":235,"e":128},{"s":"EDFT","f":240,"e":113},{"s":"EDFT","f":245,"e":133},{"s":"EDFT","f":250,"e":123},{"s":"EDFT","f":255,"e":138},{"s":"EDFT","f":260,"e":128},{"s":"EDFT","f":265,"e":113},{"s":"EDFT","f":270,"e":104},{"s":"EDFT","f":275,"e":84},{"s":"EDFT","f":280,"e":64},{"s":"EDFT","f":285,"e":104},{"s":"EDFT","f":290,"e":157},{"s":"EDFT","f":295,"e":138},{"s":"EDFT","f":300,"e":128},{"s":"EDFT","f":305,"e":147},{"s":"EDFT","f":310,"e":147},{"s":"EDFT","f":314,"e":128},{"s":"EDFT","f":318,"e":94},{"s":"EDFT","f":322,"e":138},{"s":"EDFT","f":326,"e":187},{"s":"EDFT","f":330,"e":128},{"s":"EDFT","f":334,"e":113},{"s":"EDFT","f":338,"e":133},{"s":"EDFT","f":342,"e":182},{"s":"EDFT","f":346,"e":216},{"s":"EDFT","f":350,"e":138},{"s":"EDFT","f":354,"e":104},{"s":"EDFT","f":358,"e":142},{"s":"EDFT","f":362,"e":128},{"s":"EDFT","f":365,"e":113},
{"s":"CSK","f":1,"e":5},{"s":"CSK","f":10,"e":10},{"s":"CSK","f":20,"e":15},{"s":"CSK","f":25,"e":69},{"s":"CSK","f":30,"e":120},{"s":"CSK","f":33,"e":115},{"s":"CSK","f":37,"e":60},{"s":"CSK","f":40,"e":15},{"s":"CSK","f":50,"e":12},{"s":"CSK","f":60,"e":15},{"s":"CSK","f":65,"e":133},{"s":"CSK","f":68,"e":130},{"s":"CSK","f":72,"e":45},{"s":"CSK","f":76,"e":15},{"s":"CSK","f":80,"e":84},{"s":"CSK","f":85,"e":118},{"s":"CSK","f":90,"e":120},{"s":"CSK","f":95,"e":99},{"s":"CSK","f":100,"e":55},{"s":"CSK","f":104,"e":35},{"s":"CSK","f":108,"e":142},{"s":"CSK","f":112,"e":225},{"s":"CSK","f":116,"e":255},{"s":"CSK","f":120,"e":196},{"s":"CSK","f":124,"e":94},{"s":"CSK","f":128,"e":35},{"s":"CSK","f":132,"e":79},{"s":"CSK","f":137,"e":152},{"s":"CSK","f":142,"e":118},{"s":"CSK","f":147,"e":94},{"s":"CSK","f":152,"e":167},{"s":"CSK","f":157,"e":204},{"s":"CSK","f":162,"e":196},{"s":"CSK","f":167,"e":162},{"s":"CSK","f":172,"e":99},{"s":"CSK","f":177,"e":74},{"s":"CSK","f":182,"e":64},{"s":"CSK","f":187,"e":84},{"s":"CSK","f":192,"e":94},{"s":"CSK","f":197,"e":128},{"s":"CSK","f":202,"e":174},{"s":"CSK","f":206,"e":138},{"s":"CSK","f":210,"e":84},{"s":"CSK","f":215,"e":60},{"s":"CSK","f":220,"e":89},{"s":"CSK","f":225,"e":99},{"s":"CSK","f":230,"e":94},{"s":"CSK","f":235,"e":113},{"s":"CSK","f":240,"e":104},{"s":"CSK","f":245,"e":128},{"s":"CSK","f":250,"e":113},{"s":"CSK","f":255,"e":128},{"s":"CSK","f":260,"e":118},{"s":"CSK","f":265,"e":104},{"s":"CSK","f":270,"e":84},{"s":"CSK","f":275,"e":60},{"s":"CSK","f":280,"e":55},{"s":"CSK","f":285,"e":94},{"s":"CSK","f":290,"e":162},{"s":"CSK","f":295,"e":133},{"s":"CSK","f":300,"e":104},{"s":"CSK","f":305,"e":118},{"s":"CSK","f":310,"e":152},{"s":"CSK","f":314,"e":142},{"s":"CSK","f":318,"e":79},{"s":"CSK","f":322,"e":138},{"s":"CSK","f":326,"e":204},{"s":"CSK","f":330,"e":118},{"s":"CSK","f":334,"e":94},{"s":"CSK","f":338,"e":133},{"s":"CSK","f":342,"e":201},{"s":"CSK","f":346,"e":230},{"s":"CSK","f":350,"e":133},{"s":"CSK","f":354,"e":64},{"s":"CSK","f":358,"e":104},{"s":"CSK","f":362,"e":74},{"s":"CSK","f":365,"e":35},
{"s":"Ours","f":1,"e":5},{"s":"Ours","f":10,"e":5},{"s":"Ours","f":20,"e":8},{"s":"Ours","f":30,"e":5},{"s":"Ours","f":35,"e":10},{"s":"Ours","f":40,"e":25},{"s":"Ours","f":45,"e":10},{"s":"Ours","f":50,"e":8},{"s":"Ours","f":60,"e":10},{"s":"Ours","f":70,"e":12},{"s":"Ours","f":75,"e":20},{"s":"Ours","f":80,"e":35},{"s":"Ours","f":85,"e":30},{"s":"Ours","f":90,"e":20},{"s":"Ours","f":95,"e":15},{"s":"Ours","f":100,"e":25},{"s":"Ours","f":105,"e":15},{"s":"Ours","f":110,"e":20},{"s":"Ours","f":115,"e":15},{"s":"Ours","f":120,"e":25},{"s":"Ours","f":125,"e":30},{"s":"Ours","f":130,"e":20},{"s":"Ours","f":135,"e":10},{"s":"Ours","f":140,"e":15},{"s":"Ours","f":145,"e":20},{"s":"Ours","f":150,"e":10},{"s":"Ours","f":160,"e":15},{"s":"Ours","f":170,"e":20},{"s":"Ours","f":180,"e":15},{"s":"Ours","f":190,"e":10},{"s":"Ours","f":200,"e":25},{"s":"Ours","f":205,"e":69},{"s":"Ours","f":208,"e":30},{"s":"Ours","f":215,"e":25},{"s":"Ours","f":220,"e":20},{"s":"Ours","f":230,"e":15},{"s":"Ours","f":240,"e":25},{"s":"Ours","f":250,"e":15},{"s":"Ours","f":255,"e":25},{"s":"Ours","f":260,"e":30},{"s":"Ours","f":270,"e":20},{"s":"Ours","f":280,"e":35},{"s":"Ours","f":285,"e":40},{"s":"Ours","f":290,"e":74},{"s":"Ours","f":293,"e":79},{"s":"Ours","f":296,"e":40},{"s":"Ours","f":300,"e":30},{"s":"Ours","f":305,"e":50},{"s":"Ours","f":310,"e":30},{"s":"Ours","f":314,"e":60},{"s":"Ours","f":318,"e":20},{"s":"Ours","f":322,"e":80},{"s":"Ours","f":324,"e":5},{"s":"Ours","f":326,"e":115},{"s":"Ours","f":328,"e":30},{"s":"Ours","f":330,"e":60},{"s":"Ours","f":332,"e":10},{"s":"Ours","f":334,"e":85},{"s":"Ours","f":336,"e":5},{"s":"Ours","f":338,"e":50},{"s":"Ours","f":340,"e":20},{"s":"Ours","f":343,"e":145},{"s":"Ours","f":346,"e":40},{"s":"Ours","f":349,"e":90},{"s":"Ours","f":352,"e":20},{"s":"Ours","f":355,"e":80},{"s":"Ours","f":358,"e":15},{"s":"Ours","f":361,"e":70},{"s":"Ours","f":363,"e":30},{"s":"Ours","f":365,"e":50}
]
},
"vconcat":[
{"hconcat":[
{"title":"bolt","width":231,"height":174,"data":{"name":"bolt"},"mark":{"type":"line","clip":true},
"encoding":{
"x":{"field":"f","type":"quantitative","scale":{"domain":[1,350],"nice":false,"zero":false},"axis":{"values":[50,100,150,200,250,300,350],"title":"Frame Number"}},
"y":{"field":"e","type":"quantitative","scale":{"domain":[0,620],"nice":false},"axis":{"values":[0,100,200,300,400,500,600],"title":"Center Error (pixels)"}},
"color":{"field":"s","type":"nominal","scale":{"domain":["Ours","Struck","LSHT","EDFT","CSK"],"range":["#ff0000","#00ee00","#0000ff","#ffff00","#ff8000"]},"legend":{"orient":"none","legendX":90,"legendY":435,"direction":"horizontal","title":null,"symbolType":"M-1,0H8.2","symbolSize":100,"symbolStrokeWidth":4,"labelFontSize":15,"labelFontWeight":"bold","labelFont":"Liberation Sans","labelColor":"#000","labelOffset":40,"columnPadding":5,"encode":{"symbols":{"update":{"strokeDash":{"signal":"datum.value === 'Ours' ? [46,0] : [19,8]"}}}}}},
"strokeDash":{"field":"s","type":"nominal","scale":{"domain":["Ours","Struck","LSHT","EDFT","CSK"],"range":[[1,0],[9,4],[9,4],[9,4],[9,4]]},"legend":null}}},
{"title":"skating1","width":231,"height":174,"data":{"name":"skating1"},"mark":{"type":"line","clip":true},
"encoding":{
"x":{"field":"f","type":"quantitative","scale":{"domain":[1,400],"nice":false,"zero":false},"axis":{"values":[100,200,300,400],"title":"Frame Number"}},
"y":{"field":"e","type":"quantitative","scale":{"domain":[0,369],"nice":false},"axis":{"values":[0,50,100,150,200,250,300,350],"title":"Center Error (pixels)"}},
"color":{"field":"s","type":"nominal","scale":{"domain":["Ours","Struck","LSHT","EDFT","CSK"],"range":["#ff0000","#00ee00","#0000ff","#ffff00","#ff8000"]},"legend":{"orient":"none","legendX":90,"legendY":435,"direction":"horizontal","title":null,"symbolType":"M-1,0H8.2","symbolSize":100,"symbolStrokeWidth":4,"labelFontSize":15,"labelFontWeight":"bold","labelFont":"Liberation Sans","labelColor":"#000","labelOffset":40,"columnPadding":5,"encode":{"symbols":{"update":{"strokeDash":{"signal":"datum.value === 'Ours' ? [46,0] : [19,8]"}}}}}},
"strokeDash":{"field":"s","type":"nominal","scale":{"domain":["Ours","Struck","LSHT","EDFT","CSK"],"range":[[1,0],[9,4],[9,4],[9,4],[9,4]]},"legend":null}}},
{"title":"coke","width":231,"height":174,"data":{"name":"coke"},"mark":{"type":"line","clip":true},
"encoding":{
"x":{"field":"f","type":"quantitative","scale":{"domain":[2,285],"nice":false,"zero":false},"axis":{"values":[50,100,150,200,250],"title":"Frame Number"}},
"y":{"field":"e","type":"quantitative","scale":{"domain":[0,170],"nice":false},"axis":{"values":[0,50,100,150],"title":"Center Error (pixels)"}},
"color":{"field":"s","type":"nominal","scale":{"domain":["Ours","Struck","LSHT","EDFT","CSK"],"range":["#ff0000","#00ee00","#0000ff","#ffff00","#ff8000"]},"legend":{"orient":"none","legendX":90,"legendY":435,"direction":"horizontal","title":null,"symbolType":"M-1,0H8.2","symbolSize":100,"symbolStrokeWidth":4,"labelFontSize":15,"labelFontWeight":"bold","labelFont":"Liberation Sans","labelColor":"#000","labelOffset":40,"columnPadding":5,"encode":{"symbols":{"update":{"strokeDash":{"signal":"datum.value === 'Ours' ? [46,0] : [19,8]"}}}}}},
"strokeDash":{"field":"s","type":"nominal","scale":{"domain":["Ours","Struck","LSHT","EDFT","CSK"],"range":[[1,0],[9,4],[9,4],[9,4],[9,4]]},"legend":null}}}
],"spacing":14},
{"hconcat":[
{"title":"basketball","width":231,"height":174,"data":{"name":"basketball"},"mark":{"type":"line","clip":true},
"encoding":{
"x":{"field":"f","type":"quantitative","scale":{"domain":[5,723],"nice":false,"zero":false},"axis":{"values":[200,400,600],"title":"Frame Number"}},
"y":{"field":"e","type":"quantitative","scale":{"domain":[0,320],"nice":false},"axis":{"values":[0,50,100,150,200,250,300],"title":"Center Error (pixels)"}},
"color":{"field":"s","type":"nominal","scale":{"domain":["Ours","Struck","LSHT","EDFT","CSK"],"range":["#ff0000","#00ee00","#0000ff","#ffff00","#ff8000"]},"legend":{"orient":"none","legendX":90,"legendY":435,"direction":"horizontal","title":null,"symbolType":"M-1,0H8.2","symbolSize":100,"symbolStrokeWidth":4,"labelFontSize":15,"labelFontWeight":"bold","labelFont":"Liberation Sans","labelColor":"#000","labelOffset":40,"columnPadding":5,"encode":{"symbols":{"update":{"strokeDash":{"signal":"datum.value === 'Ours' ? [46,0] : [19,8]"}}}}}},
"strokeDash":{"field":"s","type":"nominal","scale":{"domain":["Ours","Struck","LSHT","EDFT","CSK"],"range":[[1,0],[9,4],[9,4],[9,4],[9,4]]},"legend":null}}},
{"title":"kitesurf","width":231,"height":174,"data":{"name":"kitesurf"},"mark":{"type":"line","clip":true},
"encoding":{
"x":{"field":"f","type":"quantitative","scale":{"domain":[1,84],"nice":false,"zero":false},"axis":{"values":[20,40,60,80],"title":"Frame Number"}},
"y":{"field":"e","type":"quantitative","scale":{"domain":[0,98],"nice":false},"axis":{"values":[0,20,40,60,80],"title":"Center Error (pixels)"}},
"color":{"field":"s","type":"nominal","scale":{"domain":["Ours","Struck","LSHT","EDFT","CSK"],"range":["#ff0000","#00ee00","#0000ff","#ffff00","#ff8000"]},"legend":{"orient":"none","legendX":90,"legendY":435,"direction":"horizontal","title":null,"symbolType":"M-1,0H8.2","symbolSize":100,"symbolStrokeWidth":4,"labelFontSize":15,"labelFontWeight":"bold","labelFont":"Liberation Sans","labelColor":"#000","labelOffset":40,"columnPadding":5,"encode":{"symbols":{"update":{"strokeDash":{"signal":"datum.value === 'Ours' ? [46,0] : [19,8]"}}}}}},
"strokeDash":{"field":"s","type":"nominal","scale":{"domain":["Ours","Struck","LSHT","EDFT","CSK"],"range":[[1,0],[9,4],[9,4],[9,4],[9,4]]},"legend":null}}},
{"title":"tiger2","width":231,"height":174,"data":{"name":"tiger2"},"mark":{"type":"line","clip":true},
"encoding":{
"x":{"field":"f","type":"quantitative","scale":{"domain":[1,365],"nice":false,"zero":false},"axis":{"values":[100,200,300],"title":"Frame Number"}},
"y":{"field":"e","type":"quantitative","scale":{"domain":[0,256],"nice":false},"axis":{"values":[0,50,100,150,200,250],"title":"Center Error (pixels)"}},
"color":{"field":"s","type":"nominal","scale":{"domain":["Ours","Struck","LSHT","EDFT","CSK"],"range":["#ff0000","#00ee00","#0000ff","#ffff00","#ff8000"]},"legend":{"orient":"none","legendX":90,"legendY":435,"direction":"horizontal","title":null,"symbolType":"M-1,0H8.2","symbolSize":100,"symbolStrokeWidth":4,"labelFontSize":15,"labelFontWeight":"bold","labelFont":"Liberation Sans","labelColor":"#000","labelOffset":40,"columnPadding":5,"encode":{"symbols":{"update":{"strokeDash":{"signal":"datum.value === 'Ours' ? [46,0] : [19,8]"}}}}}},
"strokeDash":{"field":"s","type":"nominal","scale":{"domain":["Ours","Struck","LSHT","EDFT","CSK"],"range":[[1,0],[9,4],[9,4],[9,4],[9,4]]},"legend":null}}}
],"spacing":14}
],
"spacing":0,
"center":true
}
